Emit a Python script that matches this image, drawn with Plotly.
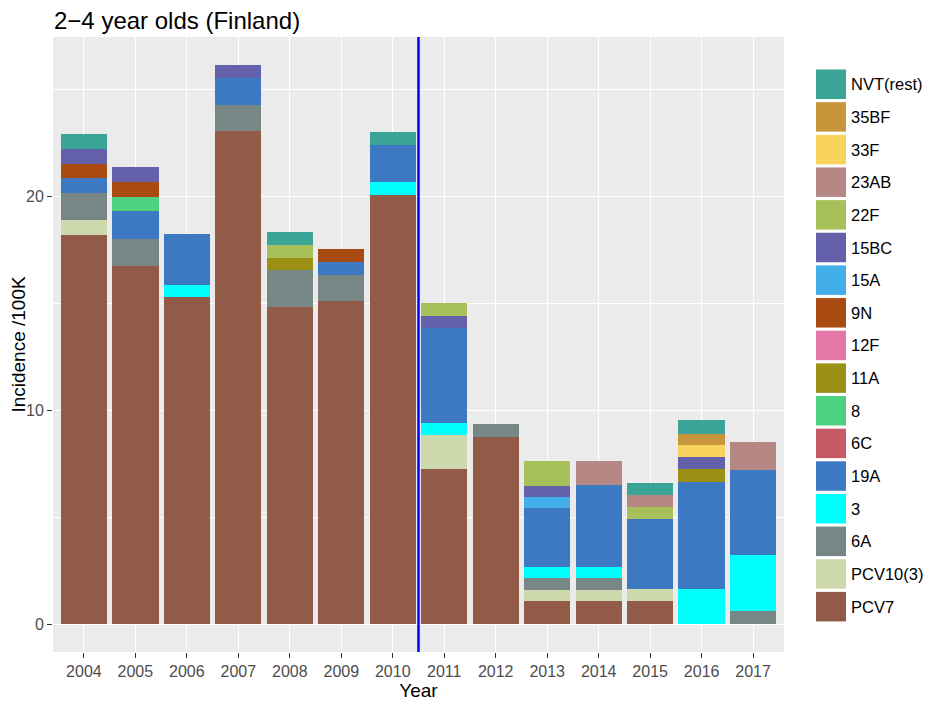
import plotly.graph_objects as go

years = [2004, 2005, 2006, 2007, 2008, 2009, 2010, 2011, 2012, 2013, 2014, 2015, 2016, 2017]

# stacking order, bottom -> top
serotypes = ["PCV7", "PCV10(3)", "6A", "3", "19A", "6C", "8", "11A", "12F", "9N",
             "15A", "15BC", "22F", "23AB", "33F", "35BF", "NVT(rest)"]

pcv7     = [18.2, 16.78, 15.3, 23.1, 14.86, 15.14, 20.09, 7.24, 8.75, 1.06, 1.06, 1.07, 0, 0]
pcv10_3  = [0.7, 0, 0, 0, 0, 0, 0, 1.6, 0, 0.54, 0.54, 0.57, 0, 0]
s6a      = [1.3, 1.26, 0, 1.2, 1.7, 1.18, 0, 0, 0.6, 0.55, 0.55, 0, 0, 0.62]
s3       = [0, 0, 0.56, 0, 0, 0, 0.62, 0.55, 0, 0.53, 0.53, 0, 1.64, 2.62]
s19a     = [0.68, 1.3, 2.42, 1.25, 0, 0.61, 1.72, 4.45, 0, 2.73, 3.82, 3.27, 5.03, 3.96]
s6c      = [0, 0, 0, 0, 0, 0, 0, 0, 0, 0, 0, 0, 0, 0]
s8       = [0, 0.67, 0, 0, 0, 0, 0, 0, 0, 0, 0, 0, 0, 0]
s11a     = [0, 0, 0, 0, 0.57, 0, 0, 0, 0, 0, 0, 0, 0.57, 0]
s12f     = [0, 0, 0, 0, 0, 0, 0, 0, 0, 0, 0, 0, 0, 0]
s9n      = [0.67, 0.67, 0, 0, 0, 0.63, 0, 0, 0, 0, 0, 0, 0, 0]
s15a     = [0, 0, 0, 0, 0, 0, 0, 0, 0, 0.54, 0, 0, 0, 0]
s15bc    = [0.68, 0.7, 0, 0.62, 0, 0, 0, 0.58, 0, 0.51, 0, 0, 0.58, 0]
s22f     = [0, 0, 0, 0, 0.63, 0, 0, 0.6, 0, 1.17, 0, 0.57, 0, 0]
s23ab    = [0, 0, 0, 0, 0, 0, 0, 0, 0, 0, 1.13, 0.55, 0, 1.32]
s33f     = [0, 0, 0, 0, 0, 0, 0, 0, 0, 0, 0, 0, 0.54, 0]
s35bf    = [0, 0, 0, 0, 0, 0, 0, 0, 0, 0, 0, 0, 0.55, 0]
nvt_rest = [0.73, 0, 0, 0, 0.6, 0, 0.59, 0, 0, 0, 0, 0.59, 0.62, 0]

values = [pcv7, pcv10_3, s6a, s3, s19a, s6c, s8, s11a, s12f, s9n,
          s15a, s15bc, s22f, s23ab, s33f, s35bf, nvt_rest]

colors = ["#925B48", "#CDD9AD", "#778785", "#00FFFF", "#3D78C2", "#C75A67", "#4CD17E",
          "#9A9014", "#E377A8", "#A84A12", "#42AEEA", "#6460AA", "#A8C05A", "#B58883",
          "#F8D35E", "#C8963A", "#3AA597"]

vline_x = 2010.5

FONT = "Liberation Sans, Arial, sans-serif"
W, H = 939, 709
OFF = 8  # page body margin in the browser
# target panel in screen pixels: x 53..784, y 37..652
L = 53 - OFF
T = 37 - OFF
R = W - (784 - OFF)
B = H - (652 - OFF)
pw, ph = W - L - R, H - T - B

def px_x(sx):
    return (sx - OFF - L) / pw

def px_y(sy):
    return (H - B - (sy - OFF)) / ph

fig = go.Figure()
for name, vals, col in zip(serotypes, values, colors):
    fig.add_trace(go.Bar(x=years, y=vals, name=name, width=0.9,
                         marker=dict(color=col, line=dict(width=0)),
                         showlegend=False))

fig.add_shape(type="line", xref="x", yref="paper", x0=vline_x, x1=vline_x, y0=0, y1=1,
              line=dict(color="#0000FF", width=2.5))

# manual ggplot-style legend (top entry = last stacked series)
first_top, pitch, sw_h = 69.5, 32.65, 29.5
for i, (name, col) in enumerate(zip(serotypes[::-1], colors[::-1])):
    top = first_top + i * pitch
    y0 = px_y(top + sw_h)
    y1 = px_y(top)
    fig.add_shape(type="rect", xref="paper", yref="paper",
                  x0=px_x(816), x1=px_x(846), y0=y0, y1=y1,
                  fillcolor=col, line=dict(width=0))
    fig.add_annotation(xref="paper", yref="paper", x=px_x(849), y=(y0 + y1) / 2,
                       text=name, showarrow=False, xanchor="left", yanchor="middle",
                       font=dict(family=FONT, size=16.5, color="black"))

fig.update_layout(
    width=W, height=H,
    margin=dict(l=L, r=R, t=T, b=B, autoexpand=False),
    paper_bgcolor="white", plot_bgcolor="#EBEBEB",
    barmode="stack", bargap=0,
    font=dict(family=FONT),
    title=dict(text="2\u22124 year olds (Finland)", x=(54 - OFF) / W, xanchor="left",
               y=1 - 13 / H, yanchor="middle",
               font=dict(family=FONT, size=24, color="black")),
    xaxis=dict(range=[2003.4, 2017.6], tickmode="array", tickvals=years,
               ticktext=[str(y) for y in years], automargin=False,
               showgrid=True, gridcolor="white", gridwidth=1.1, zeroline=False,
               ticks="outside", ticklen=5, tickwidth=1.4, tickcolor="#333333",
               tickfont=dict(family=FONT, size=16, color="#4D4D4D"),
               title=dict(text="Year", font=dict(family=FONT, size=19, color="black"),
                          standoff=4),
               showline=False),
    yaxis=dict(range=[-1.31, 27.48], tickmode="array", tickvals=[0, 10, 20],
               automargin=False,
               showgrid=True, gridcolor="white", gridwidth=1.1, zeroline=False,
               minor=dict(tickmode="array", tickvals=[5, 15, 25], showgrid=True,
                          gridcolor="white", gridwidth=0.5, ticks=""),
               ticks="outside", ticklen=5, tickwidth=1.4, tickcolor="#333333",
               tickfont=dict(family=FONT, size=16, color="#4D4D4D"),
               title=dict(text="Incidence /100K", font=dict(family=FONT, size=19, color="black"),
                          standoff=6),
               showline=False),
)

fig.write_html("out.html")
